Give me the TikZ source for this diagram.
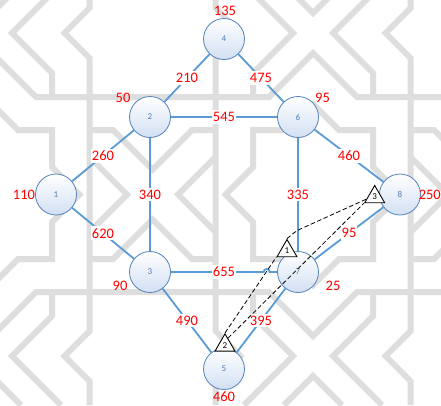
\documentclass[tikz,border=0pt]{standalone}
\usepackage{fontspec}
\setmainfont{Carlito}
\usetikzlibrary{shapes.geometric,calc}

\definecolor{patgray}{RGB}{222,222,222}
\definecolor{edgeblue}{RGB}{91,155,213}
\definecolor{nodeline}{RGB}{84,130,190}
\definecolor{nodefill}{RGB}{210,224,243}
\definecolor{numblue}{RGB}{84,125,180}

\begin{document}
\begin{tikzpicture}[x=1pt,y=-1pt,
  pat/.style={draw=patgray,line width=6pt,line join=miter},
  vertex/.style={circle,draw=nodeline,line width=0.8pt,top color=white,bottom color=nodefill,
    minimum size=41pt,inner sep=0pt,text=numblue,font=\fontsize{9}{9}\selectfont},
  link/.style={draw=edgeblue,line width=1.8pt},
  cost/.style={fill=white,text=red,inner xsep=0.6pt,inner ysep=2.2pt,font=\fontsize{14.5}{14.5}\selectfont},
  weight/.style={text=red,inner sep=0pt,font=\fontsize{14.5}{14.5}\selectfont},
  marker/.style={regular polygon,regular polygon sides=3,draw=black,fill=white,line width=0.9pt,
    minimum size=23pt,inner sep=0pt,font=\fontsize{9}{9}\selectfont},
  route/.style={draw=black,line width=0.8pt,dash pattern=on 4.5pt off 2.5pt}
]
\useasboundingbox (0,0) rectangle (441,405);
\fill[white] (0,0) rectangle (441,405);

% ---- lattice ornament in the background ----
\begin{scope}
\clip (0,0) rectangle (441,405);
% corner chevrons
\draw[pat] (61,-16) -- (12,33) -- (52,73) -- (52,97);
\draw[pat] (61,405) -- (12,356) -- (52,316) -- (52,292);
\draw[pat] (244,-16) -- (293,33) -- (253,73) -- (253,97);
\draw[pat] (244,405) -- (293,356) -- (253,316) -- (253,292);
\draw[pat] (382,-16) -- (333,33) -- (373,73) -- (373,97);
\draw[pat] (382,405) -- (333,356) -- (373,316) -- (373,292);
% small V pieces at the top and bottom edges
\draw[pat] (-37,-16) -- (-8,13) -- (21,-16);
\draw[pat] (284,-16) -- (313,13) -- (342,-16);
\draw[pat] (-37,405) -- (-8,376) -- (21,405);
\draw[pat] (284,405) -- (313,376) -- (342,405);
% long horizontal bands with their peaks
\draw[pat] (-52,97) -- (-8,53) -- (36,97) -- (269,97) -- (313,53) -- (357,97) -- (470,97);
\draw[pat] (-52,292) -- (-8,336) -- (36,292) -- (269,292) -- (313,336) -- (357,292) -- (470,292);
% star-shaped loops
\draw[pat] (-8,104) -- (18,130) -- (52,130) -- (52,167) -- (79.5,194.5) -- (52,222) -- (52,259)
  -- (18,259) -- (-8,285) -- (-34,259) -- (-68,259) -- (-68,222) -- (-95.5,194.5) -- (-68,167)
  -- (-68,130) -- (-34,130) -- cycle;
\draw[pat] (313,104) -- (339,130) -- (373,130) -- (373,167) -- (400.5,194.5) -- (373,222) -- (373,259)
  -- (339,259) -- (313,285) -- (287,259) -- (253,259) -- (253,222) -- (225.5,194.5) -- (253,167)
  -- (253,130) -- (287,130) -- cycle;
% verticals with side notches
\draw[pat] (89.5,-16) -- (89.5,8) -- (64.5,33) -- (89.5,58) -- (89.5,331) -- (64.5,356) -- (89.5,381) -- (89.5,405);
\draw[pat] (215.5,-16) -- (215.5,8) -- (240.5,33) -- (215.5,58) -- (215.5,331) -- (240.5,356) -- (215.5,381) -- (215.5,405);
\draw[pat] (410.5,-16) -- (410.5,8) -- (385.5,33) -- (410.5,58) -- (410.5,331) -- (385.5,356) -- (410.5,381) -- (410.5,405);
% V and inverted V between the verticals
\draw[pat] (89.5,130) -- (113,130) -- (152.5,169.5) -- (192,130) -- (215.5,130);
\draw[pat] (89.5,259) -- (113,259) -- (152.5,219.5) -- (192,259) -- (215.5,259);
\draw[pat] (410.5,130) -- (434,130) -- (473.5,169.5) -- (513,130);
\draw[pat] (410.5,259) -- (434,259) -- (473.5,219.5) -- (513,259);
% arrow-like notches at mid height
\draw[pat] (89.5,157) -- (127,194.5) -- (89.5,232);
\draw[pat] (215.5,157) -- (178,194.5) -- (215.5,232);
\draw[pat] (410.5,157) -- (448,194.5) -- (410.5,232);
\end{scope}

% ---- nodes ----
\node[vertex] (n4) at (224,39) {4};
\node[vertex] (n2) at (150,117) {2};
\node[vertex] (n6) at (298,117) {6};
\node[vertex] (n1) at (56,194.5) {1};
\node[vertex] (n8) at (400,194.5) {8};
\node[vertex] (n3) at (150,272) {3};
\node[vertex] (n7) at (298,272) {7};
\node[vertex] (n5) at (224,369) {5};

% ---- edges with costs ----
\draw[link] (n2) -- node[cost] (c24) {210} (n4);
\draw[link] (n4) -- node[cost] (c46) {475} (n6);
\draw[link] (n2) -- node[cost] (c26) {545} (n6);
\draw[link] (n1) -- node[cost] (c12) {260} (n2);
\draw[link] (n6) -- node[cost] (c68) {460} (n8);
\draw[link] (n2) -- node[cost] (c23) {340} (n3);
\draw[link] (n6) -- node[cost] (c67) {335} (n7);
\draw[link] (n1) -- node[cost] (c13) {620} (n3);
\draw[link] (n7) -- node[cost] (c78) {95} (n8);
\draw[link] (n3) -- node[cost] (c35) {490} (n5);
\draw[link] (n7) -- node[cost] (c75) {395} (n5);
\coordinate (hopA) at (263.6,272);
\draw[link] (n3) -- (hopA) arc (180:360:3) -- (n7);
\node[cost] (c37) at ($(n3)!0.5!(n7)$) {655};

% ---- node weights ----
\node[weight] (w4) at (225,11) {135};
\node[weight] (w2) at (123,98) {50};
\node[weight] (w6) at (322.5,98) {95};
\node[weight] (w1) at (24,194.5) {110};
\node[weight,anchor=east] (w8) at (441,194.5) {250};
\node[weight] (w3) at (120,286) {90};
\node[weight] (w7) at (333,286) {25};
\node[weight] (w5) at (224,397) {460};

% ---- numbered markers and their dashed links ----
\coordinate (m1) at (287,251);
\coordinate (m2) at (225,345.3);
\coordinate (m3) at (374.7,197);
\path (m1) node[marker,draw=none,fill=none] (t1) {\phantom{1}}
      (m2) node[marker,draw=none,fill=none] (t2) {\phantom{2}}
      (m3) node[marker,draw=none,fill=none] (t3) {\phantom{3}};
\coordinate (bend) at (296,231);
\draw[route] (t2.corner 1) -- (t1.corner 2);
\draw[route] ($(t2.corner 1)!0.28!(t2.corner 3)$) -- (t3.corner 2);
\draw[route,rounded corners=5pt] (t1.corner 1) -- (bend) -- ($(t3.corner 2)!0.22!(t3.corner 1)$);
\node[marker] (k1) at (m1) {1};
\node[marker] (k2) at (m2) {2};
\node[marker] (k3) at (m3) {3};
\end{tikzpicture}
\end{document}
